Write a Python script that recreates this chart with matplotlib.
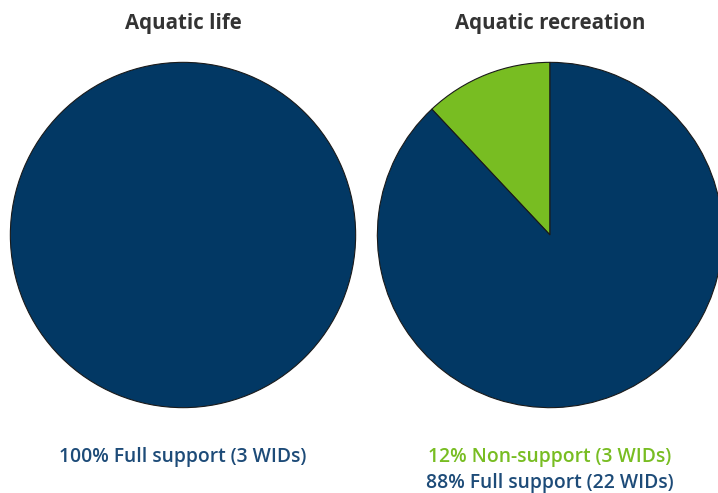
import matplotlib
matplotlib.use("Agg")
import matplotlib.pyplot as plt

# Support status per designated use
titles = ["Aquatic life", "Aquatic recreation"]
life_labels = ["Full support"]
life_values = [100]
life_wids = [3]
rec_labels = ["Non-support", "Full support"]
rec_values = [12, 88]
rec_wids = [3, 22]

NAVY = "#023864"
GREEN = "#78bd22"
NAVY_TXT = "#1d4b78"
TITLE_C = "#333333"

W, H = 718, 493
fig = plt.figure(figsize=(W / 100, H / 100), dpi=100)

def pie_axes(left_px, top_px, size_px):
    return fig.add_axes([left_px / W, 1 - (top_px + size_px) / H, size_px / W, size_px / H])

ax1 = pie_axes(10, 62, 346)
ax2 = pie_axes(377, 62, 346)

wedge_kw = dict(edgecolor="#1a1a1a", linewidth=0.8)
ax1.pie(life_values, colors=[NAVY], startangle=90, counterclock=True,
        wedgeprops=wedge_kw)
ax2.pie(rec_values, colors=[GREEN, NAVY], startangle=90, counterclock=True,
        wedgeprops=wedge_kw)
for ax in (ax1, ax2):
    ax.set_xlim(-1.002, 1.002)
    ax.set_ylim(-1.002, 1.002)
    ax.set_axis_off()

title_font = dict(family="Open Sans", weight="bold", size=14.8, color=TITLE_C)
label_font = dict(family="Open Sans", weight="semibold", size=13.9)

fig.text(183 / W, 1 - 23 / H, titles[0], ha="center", va="center", **title_font)
fig.text(550 / W, 1 - 23 / H, titles[1], ha="center", va="center", **title_font)

fig.text(183 / W, 1 - 457 / H,
         f"{life_values[0]}% {life_labels[0]} ({life_wids[0]} WIDs)",
         ha="center", va="center", color=NAVY_TXT, **label_font)
fig.text(550 / W, 1 - 457 / H,
         f"{rec_values[0]}% {rec_labels[0]} ({rec_wids[0]} WIDs)",
         ha="center", va="center", color=GREEN, **label_font)
fig.text(550 / W, 1 - 483 / H,
         f"{rec_values[1]}% {rec_labels[1]} ({rec_wids[1]} WIDs)",
         ha="center", va="center", color=NAVY_TXT, **label_font)

fig.savefig("out.png", dpi=100, facecolor="white")
